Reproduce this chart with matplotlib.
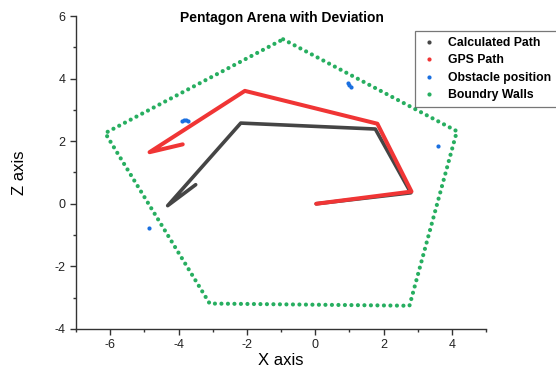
import matplotlib
matplotlib.use("Agg")
import matplotlib.pyplot as plt
from matplotlib.lines import Line2D
from matplotlib.ticker import MultipleLocator

plt.rcParams['font.family'] = ['Liberation Sans', 'DejaVu Sans']
plt.rcParams['axes.unicode_minus'] = False

# Boundary wall vertices (closed pentagon)
wall_x = [-0.94, 4.15, 2.76, -3.09, -6.15, -0.94]
wall_z = [5.26, 2.32, -3.26, -3.19, 2.26, 5.26]

# Calculated path
calc_x = [0.03, 2.80, 1.76, -2.18, -4.32, -3.50]
calc_z = [0.00, 0.35, 2.39, 2.58, -0.06, 0.61]

# GPS path
gps_x = [0.03, 2.82, 1.82, -2.06, -4.85, -3.88]
gps_z = [0.00, 0.39, 2.56, 3.61, 1.65, 1.90]

# Obstacle detections
obs_x = [-3.90, -3.84, -3.78, -3.72, 0.95, 1.00, 1.05, 3.59, -4.88]
obs_z = [2.66, 2.67, 2.67, 2.66, 3.86, 3.80, 3.74, 1.84, -0.77]

c_calc = '#454545'
c_gps = '#f03535'
c_obs = '#1a6fe0'
c_wall = '#27ae60'

fig = plt.figure(figsize=(5.56, 3.75), dpi=100)
ax = fig.add_axes([0.137, 0.123, 0.737, 0.834])

ax.plot(wall_x, wall_z, color=c_wall, lw=3.0, linestyle=(0, (0.01, 1.55)),
        dash_capstyle='round', zorder=2)
ax.plot(calc_x, calc_z, color=c_calc, lw=2.6, solid_capstyle='round',
        solid_joinstyle='round', zorder=3)
ax.plot(gps_x, gps_z, color=c_gps, lw=2.9, solid_capstyle='round',
        solid_joinstyle='round', zorder=4)
ax.plot(obs_x, obs_z, 'o', color=c_obs, ms=3, mew=0, zorder=5)

ax.set_xlim(-7, 5)
ax.set_ylim(-4, 6)
ax.set_xticks([-6, -4, -2, 0, 2, 4])
ax.xaxis.set_minor_locator(MultipleLocator(1))
ax.yaxis.set_major_locator(MultipleLocator(2))
ax.yaxis.set_minor_locator(MultipleLocator(1))
for s in ['top', 'right']:
    ax.spines[s].set_visible(False)
for s in ['left', 'bottom']:
    ax.spines[s].set_color('#333333')
    ax.spines[s].set_linewidth(1.0)
ax.tick_params(which='major', direction='out', length=4, width=1,
               labelsize=9, colors='#333333', labelcolor='#222222')
ax.tick_params(which='minor', direction='out', length=2.5, width=1,
               colors='#333333')

ax.set_xlabel('X axis', fontsize=12, labelpad=1)
ax.set_ylabel('Z axis', fontsize=12, labelpad=20)
fig.text(0.507, 0.953, 'Pentagon Arena with Deviation', fontsize=10,
         fontweight='bold', ha='center', va='center')

handles = [
    Line2D([], [], ls='none', marker='o', ms=3, mew=0, color=c_calc),
    Line2D([], [], ls='none', marker='o', ms=3, mew=0, color=c_gps),
    Line2D([], [], ls='none', marker='o', ms=3, mew=0, color=c_obs),
    Line2D([], [], ls='none', marker='o', ms=3, mew=0, color=c_wall),
]
labels = ['Calculated Path', 'GPS Path', 'Obstacle position', 'Boundry Walls']
leg = fig.legend(handles, labels, loc='upper left',
                 bbox_to_anchor=(0.747, 0.918), frameon=True, fancybox=False,
                 edgecolor='#555555', prop={'weight': 'bold', 'size': 8.8},
                 handlelength=1.2, handletextpad=1.0, labelspacing=0.45,
                 borderpad=0.5, borderaxespad=0)
leg.get_frame().set_linewidth(0.9)

fig.savefig('out.png', dpi=100)
